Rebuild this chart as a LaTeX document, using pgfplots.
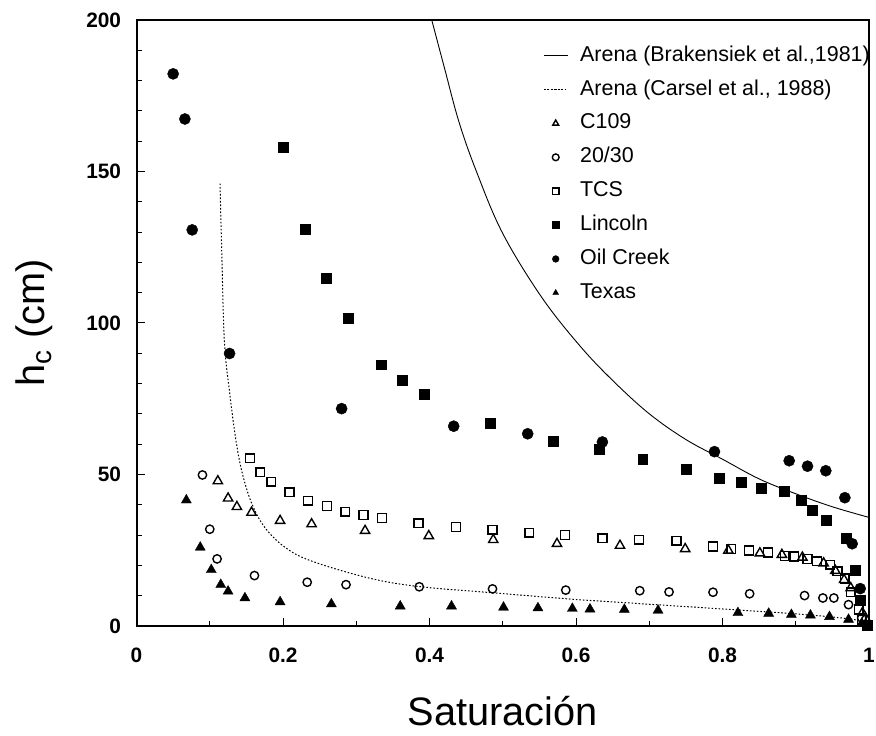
\documentclass[border=0pt]{standalone}
\usepackage{fontspec}
\setmainfont{Liberation Sans}
\usepackage{pgfplots}
\pgfplotsset{compat=1.18}
\begin{document}
\begin{tikzpicture}
\begin{axis}[
  at={(0,0)}, anchor=south west,
  scale only axis, width=735bp, height=608bp,
  xmin=0, xmax=1, ymin=0, ymax=200,
  xtick={0,0.2,0.4,0.6,0.8,1}, ytick={0,50,100,150,200},
  minor x tick num=1, minor y tick num=4,
  tick pos=left, tick align=inside,
  major tick length=8bp, minor tick length=5bp,
  every tick/.style={black, line width=0.8bp},
  axis line style={line width=2bp},
  /pgf/number format/assume math mode=true,
  xticklabel style={font=\fontsize{21}{21}\selectfont\bfseries, yshift=-19bp},
  yticklabel style={font=\fontsize{21}{21}\selectfont\bfseries, xshift=-12bp},
  xlabel={Saturación},
  ylabel={h\textsubscript{c} (cm)},
  xlabel style={font=\fontsize{40}{40}\selectfont, at={(axis description cs:0.5,-0.1645)}, anchor=base},
  ylabel style={font=\fontsize{40}{40}\selectfont, at={(axis description cs:-0.1252,0.5)}, anchor=base, rotate=0},
  clip mode=individual,
  legend style={draw=none, fill=none, at={(0.555,0.957)}, anchor=north west,
    font=\fontsize{21.6}{21.6}\selectfont, row sep=15bp, inner sep=0pt,
    cells={anchor=west}, nodes={inner sep=0pt, text height=15bp, text depth=4bp},
    /tikz/every odd column/.append style={column sep=12bp}},
  legend image code/.code={\draw[mark repeat=2,mark phase=2,#1] plot coordinates {(0bp,0bp) (12bp,0bp) (24bp,0bp)};},
  legend image post style={mark size=3.4bp},
]

% Arena (Brakensiek et al., 1981)
\addplot[black, line width=0.9bp, smooth, tension=0.6] table {
x y
0.403 200
0.420 184.5
0.440 166.5
0.464 150.0
0.500 129.5
0.553 108.5
0.605 92.5
0.650 81.0
0.700 70.0
0.750 61.5
0.800 55.0
0.850 48.5
0.900 43.6
0.950 39.3
1.000 35.8
};
\addlegendentry{Arena (Brakensiek et al.,1981)}

% Arena (Carsel et al., 1988)
\addplot[black, line width=1bp, dash pattern=on 1.6bp off 1.9bp, smooth, tension=0.6] table {
x y
0.114 146
0.1166 121
0.120 93.6
0.127 77.2
0.136 60.8
0.145 49.8
0.158 40.0
0.176 32.2
0.204 25.7
0.240 21.3
0.317 15.8
0.385 13.0
0.487 10.9
0.589 8.9
0.657 7.8
0.811 5.4
0.902 3.9
0.970 2.4
1.000 1.0
};
\addlegendentry{Arena (Carsel et al., 1988)}

% C109
\addplot[only marks, mark=triangle, mark size=5.4bp, mark options={line width=1.4bp, black}] table {
x y
0.111 47.8
0.125 42.1
0.137 39.3
0.157 37.4
0.196 34.7
0.239 33.6
0.312 31.4
0.399 29.7
0.487 28.4
0.574 27.1
0.660 26.5
0.749 25.4
0.808 24.9
0.851 24.0
0.881 23.5
0.909 22.6
0.938 20.7
0.954 18.2
0.966 15.2
0.975 12.5
0.991 4.3
0.995 2.6
};
\addlegendentry{C109}

% 20/30
\addplot[only marks, mark=o, mark size=4.2bp, mark options={line width=1.4bp, black}] table {
x y
0.090 49.8
0.100 31.9
0.110 22.1
0.161 16.6
0.233 14.4
0.286 13.6
0.386 12.9
0.486 12.2
0.586 11.8
0.687 11.6
0.727 11.2
0.787 11.1
0.837 10.6
0.912 10.0
0.937 9.2
0.952 9.2
0.972 7.0
0.990 2.6
};
\addlegendentry{20/30}

% TCS
\addplot[only marks, mark=square, mark size=4.4bp, mark options={line width=1.5bp, black}] table {
x y
0.155 55.3
0.169 50.7
0.184 47.6
0.209 44.1
0.234 41.3
0.260 39.6
0.285 37.7
0.310 36.6
0.335 35.6
0.385 33.9
0.436 32.6
0.486 31.7
0.536 30.7
0.585 30.0
0.636 28.9
0.686 28.4
0.737 28.1
0.787 26.2
0.812 25.4
0.836 24.9
0.862 24.2
0.885 23.1
0.898 22.9
0.916 22.1
0.929 21.3
0.947 20.2
0.957 18.0
0.967 15.6
0.975 11.1
0.986 5.4
0.990 2.0
};
\addlegendentry{TCS}

% Lincoln
\addplot[only marks, mark=square*, mark size=5bp, mark options={black}] table {
x y
0.200 158.1
0.230 130.9
0.259 114.7
0.289 101.6
0.334 86.2
0.363 81.0
0.393 76.6
0.483 67.0
0.569 61.0
0.631 58.2
0.691 55.0
0.750 51.6
0.795 48.7
0.825 47.3
0.853 45.4
0.884 44.6
0.907 41.5
0.922 38.3
0.941 35.0
0.969 29.0
0.981 18.3
0.988 8.5
0.998 0.2
};
\addlegendentry{Lincoln}

% Oil Creek
\addplot[only marks, mark=*, mark size=5.6bp, mark options={black}] table {
x y
0.050 182.2
0.066 167.3
0.076 130.7
0.127 89.9
0.280 71.7
0.433 65.9
0.534 63.4
0.636 60.7
0.789 57.5
0.891 54.5
0.916 52.7
0.941 51.2
0.967 42.3
0.977 27.1
0.988 12.3
};
\addlegendentry{Oil Creek}

% Texas
\addplot[only marks, mark=triangle*, mark size=5.8bp, mark options={black}] table {
x y
0.068 41.5
0.087 25.9
0.102 18.5
0.115 13.6
0.125 11.4
0.148 9.2
0.196 7.9
0.266 7.2
0.360 6.5
0.430 6.5
0.501 6.1
0.548 5.9
0.595 5.7
0.619 5.5
0.666 5.4
0.712 5.1
0.821 4.3
0.863 4.1
0.894 3.7
0.920 3.5
0.946 3.0
0.972 2.1
0.990 0.8
};
\addlegendentry{Texas}

\end{axis}
\pgfresetboundingbox
\path (-137bp,-110bp) rectangle (742bp,628bp);
\end{tikzpicture}
\end{document}
